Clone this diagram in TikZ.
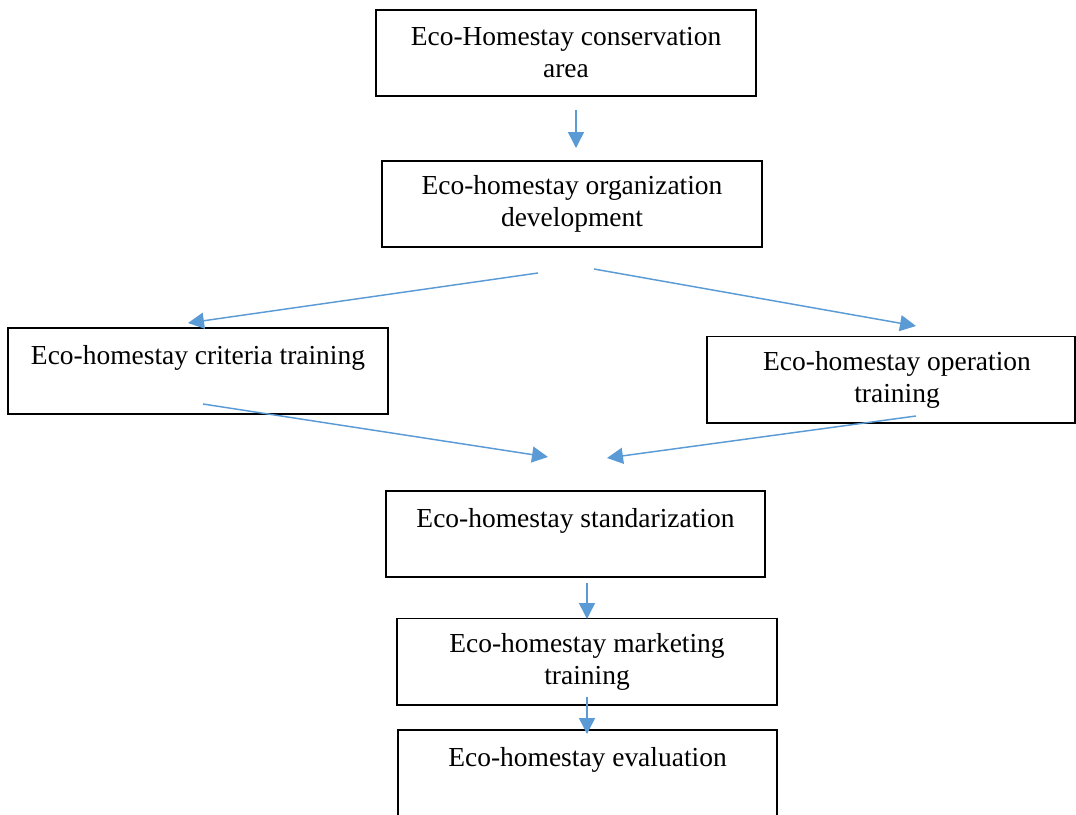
\documentclass[tikz,border=0pt]{standalone}
\usepackage{fontspec}
\setmainfont{Liberation Serif}
\usetikzlibrary{arrows.meta}
\definecolor{arrowblue}{HTML}{5B9BD5}
\tikzset{
  box/.style={draw=black, line width=1pt, rectangle, align=center, inner sep=0pt,
    font=\fontsize{20.6}{24}\selectfont, minimum height=64.5pt},
  flow/.style={draw=arrowblue, line width=1.1pt, -{Triangle[length=12pt,width=12pt]}}
}
\begin{document}
\begin{tikzpicture}[x=0.75pt,y=-0.75pt]
\clip (0,0) rectangle (1076,815);
\fill[white] (0,0) rectangle (1076,815);
\node[box, minimum width=285pt] (b1) at (566,53) {Eco-Homestay conservation\\area};
\node[box, minimum width=285pt] (b2) at (572,204) {Eco-homestay organization\\development};
\node[box, minimum width=285pt] (b3) at (198,371) {Eco-homestay criteria training\\\mbox{}};
\node[box, minimum width=276pt, minimum height=65pt] (b4) at (891,379.5) {\hspace*{9pt}Eco-homestay operation\\\hspace*{9pt}training};
\node[box, minimum width=284.25pt] (b5) at (575.5,534) {Eco-homestay standarization\\\mbox{}};
\node[box, minimum width=285pt, minimum height=65pt] (b6) at (587,661.5) {Eco-homestay marketing\\training};
\node[box, minimum width=284.25pt] (b7) at (587.5,773) {Eco-homestay evaluation\\\mbox{}};
\coordinate (a1s) at (576,110); \coordinate (a1e) at (576,148);
\coordinate (a2s) at (538,273); \coordinate (a2e) at (188,323);
\coordinate (a3s) at (594,269); \coordinate (a3e) at (916,326);
\coordinate (a4s) at (203,404); \coordinate (a4e) at (548,457);
\coordinate (a5s) at (916,416); \coordinate (a5e) at (607,458);
\coordinate (a6s) at (587,583); \coordinate (a6e) at (587,619);
\coordinate (a7s) at (587,697); \coordinate (a7e) at (587,734);
\draw[flow] (a1s) -- (a1e);
\draw[flow] (a2s) -- (a2e);
\draw[flow] (a3s) -- (a3e);
\draw[flow] (a4s) -- (a4e);
\draw[flow] (a5s) -- (a5e);
\draw[flow] (a6s) -- (a6e);
\draw[flow] (a7s) -- (a7e);
\end{tikzpicture}
\end{document}
